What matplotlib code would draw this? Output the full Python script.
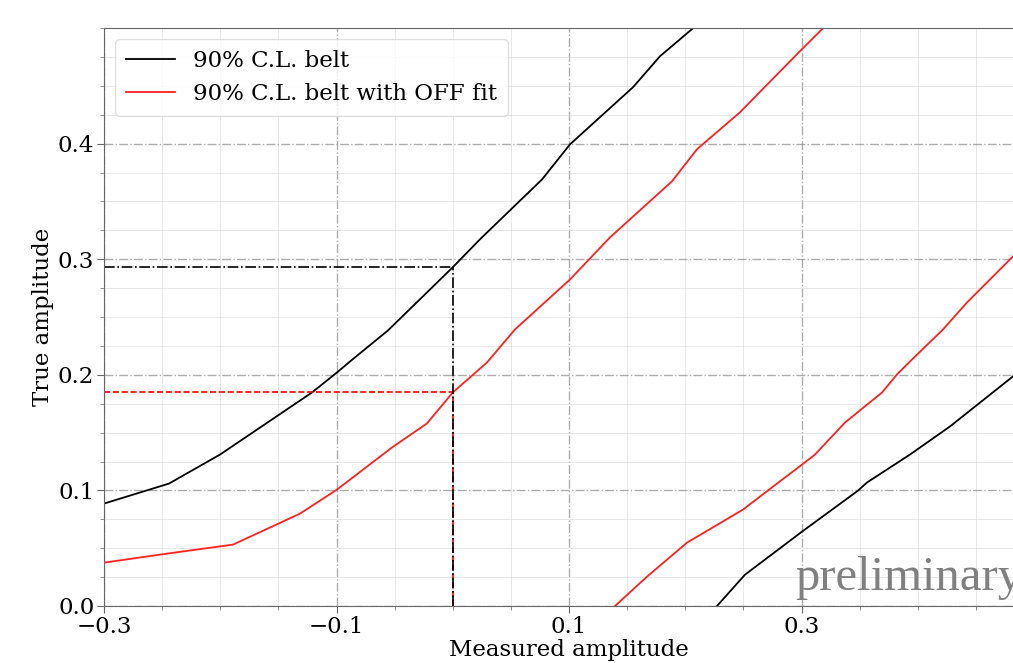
import matplotlib
matplotlib.use("Agg")
import matplotlib.pyplot as plt
from matplotlib.ticker import MultipleLocator

plt.rcParams['font.family'] = ['DejaVu Serif']

# Black 90% C.L. belt (upper and lower edges)
black_up_x = [-0.3, -0.2441, -0.2002, -0.1211, -0.0996, -0.0884, -0.0557, 0.0, 0.0234, 0.0768, 0.1009, 0.1551, 0.1783, 0.2067]
black_up_y = [0.0886, 0.1059, 0.131, 0.1847, 0.202, 0.2115, 0.2384, 0.293, 0.3172, 0.369, 0.3994, 0.4488, 0.4756, 0.4998]
black_lo_x = [0.2273, 0.2514, 0.3004, 0.3486, 0.3563, 0.3933, 0.4277, 0.4819]
black_lo_y = [0.0, 0.0271, 0.0643, 0.0998, 0.1068, 0.131, 0.1553, 0.1986]

# Red 90% C.L. belt with OFF fit (upper and lower edges)
red_up_x = [-0.3, -0.2458, -0.189, -0.1314, -0.0996, -0.0523, -0.0222, 0.0, 0.0295, 0.0535, 0.1009, 0.1353, 0.1886, 0.2101, 0.2471, 0.2987, 0.3185]
red_up_y = [0.0375, 0.0453, 0.0531, 0.0799, 0.1007, 0.1371, 0.1579, 0.1847, 0.2107, 0.2392, 0.2825, 0.3189, 0.3674, 0.3951, 0.4271, 0.48, 0.4998]
red_lo_x = [0.1396, 0.1671, 0.2015, 0.2497, 0.2789, 0.3004, 0.3116, 0.3374, 0.3693, 0.3821, 0.3933, 0.4217, 0.4424, 0.4819]
red_lo_y = [0.0, 0.0254, 0.0548, 0.0834, 0.1059, 0.1223, 0.131, 0.1587, 0.1847, 0.2003, 0.2115, 0.2392, 0.2626, 0.3024]

# Measured value and resulting upper limits
x_meas = 0.0
ul_black = 0.293
ul_red = 0.1847

x_ticks = [-0.3, -0.1, 0.1, 0.3]
y_ticks = [0.0, 0.1, 0.2, 0.3, 0.4]

FS = 16.5

fig = plt.figure(figsize=(10.13, 6.63), dpi=100)
ax = fig.add_axes([104/1013, 57/663, 930/1013, (606-28)/663])

ax.plot(black_up_x, black_up_y, color='black', lw=1.3, label='90% C.L. belt')
ax.plot(black_lo_x, black_lo_y, color='black', lw=1.3)
ax.plot(red_up_x, red_up_y, color='#ff2020', lw=1.3, label='90% C.L. belt with OFF fit')
ax.plot(red_lo_x, red_lo_y, color='#ff2020', lw=1.3)

ax.plot([-0.3, x_meas], [ul_red, ul_red], color='red', ls='--', lw=1.2)
ax.plot([x_meas, x_meas], [0, ul_red], color='red', ls='--', lw=1.2)
ax.plot([-0.3, x_meas], [ul_black, ul_black], color='black', ls='-.', lw=1.2)
ax.plot([x_meas, x_meas], [0, ul_black], color='black', ls='-.', lw=1.2)

ax.set_xlim(-0.3, 0.5)
ax.set_ylim(0.0, 0.5)
ax.set_xticks(x_ticks)
ax.set_yticks(y_ticks)
ax.xaxis.set_minor_locator(MultipleLocator(0.05))
ax.yaxis.set_minor_locator(MultipleLocator(0.025))
ax.set_xticklabels(['\u22120.3', '\u22120.1', '0.1', '0.3'])
ax.set_yticklabels(['0.0', '0.1', '0.2', '0.3', '0.4'])

ax.grid(which='major', ls='-.', color='0.6', lw=1.0, alpha=0.8)
ax.grid(which='minor', ls='-', color='0.85', lw=0.7, alpha=0.6)
ax.set_axisbelow(True)

for s in ['left', 'bottom', 'top']:
    ax.spines[s].set_color('0.4')
ax.spines['right'].set_visible(False)
ax.tick_params(which='major', length=5, color='0.4', labelsize=FS, pad=2)
ax.tick_params(which='minor', length=3, color='0.5')

ax.set_xlabel('Measured amplitude', fontsize=FS, labelpad=1)
ax.set_ylabel('True amplitude', fontsize=FS, labelpad=2.5)

leg = ax.legend(loc='upper left', fontsize=FS, framealpha=0.8, edgecolor='0.85',
                borderpad=0.45, labelspacing=0.5, handlelength=2.15,
                borderaxespad=0.5)

fig.text(795/1013, (663-590)/663, 'preliminary', family='Liberation Serif',
         fontsize=35, color='0.5', ha='left', va='baseline')

fig.savefig('out.png', dpi=100)
